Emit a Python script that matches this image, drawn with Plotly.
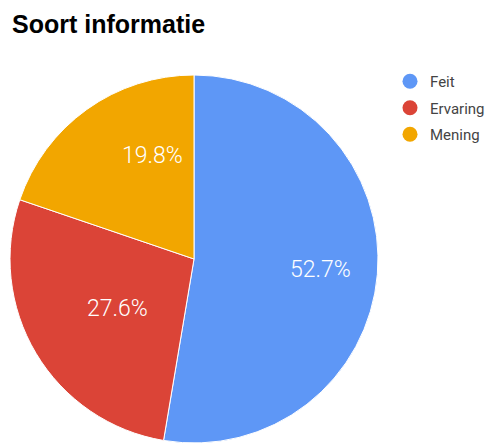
import numpy as np
import plotly.graph_objects as go

labels = ["Feit", "Ervaring", "Mening"]
values = [52.7, 27.6, 19.8]
colors = ["#5e97f6", "#db4437", "#f2a600"]

# page has an 8px body margin, so the figure is a bit smaller than the window
W, H = 488, 440

# pie placement (pixels in figure space)
cx, cy, r = 186, 251, 184

fig = go.Figure()

fig.add_trace(go.Pie(
    labels=labels,
    values=values,
    sort=False,
    direction="clockwise",
    rotation=0,
    marker=dict(colors=colors, line=dict(color="white", width=1)),
    textinfo="none",
    hoverinfo="label+percent",
    showlegend=False,
    domain=dict(x=[(cx - r) / W, (cx + r) / W],
                y=[(H - cy - r) / H, (H - cy + r) / H]),
))

# percentage labels, placed further out than plotly does (like Google charts)
total = sum(values)
start = 0.0
for v in values:
    mid = (start + v / 2) / total * 2 * np.pi
    start += v
    px = cx + 0.69 * r * np.sin(mid)
    py = cy - 0.69 * r * np.cos(mid)
    fig.add_annotation(
        x=px / W, y=1 - py / H, xref="paper", yref="paper",
        text=f"{v:.1f}%",
        showarrow=False,
        font=dict(family="Roboto", size=23, color="white", weight=300),
    )

# legend entries with circle markers
for lab, col in zip(labels, colors):
    fig.add_trace(go.Scatter(
        x=[None], y=[None],
        mode="markers",
        marker=dict(size=15, color=col, symbol="circle"),
        name=lab,
        legendgroup=lab,
    ))

fig.update_layout(
    width=W,
    height=H,
    margin=dict(l=0, r=0, t=0, b=0),
    paper_bgcolor="white",
    plot_bgcolor="white",
    title=dict(
        text="<b>Soort informatie</b>",
        font=dict(family="Liberation Sans, Arial", size=25, color="#000000"),
        x=4 / W, xanchor="left",
        y=1 - 16 / H, yanchor="middle",
        yref="container", xref="container",
    ),
    xaxis=dict(visible=False),
    yaxis=dict(visible=False),
    legend=dict(
        x=382 / W, y=1 - 57 / H,
        xanchor="left", yanchor="top",
        font=dict(family="Roboto", size=15, color="#444444"),
        tracegroupgap=4,
        itemwidth=30,
    ),
)

fig.write_html("out.html")
